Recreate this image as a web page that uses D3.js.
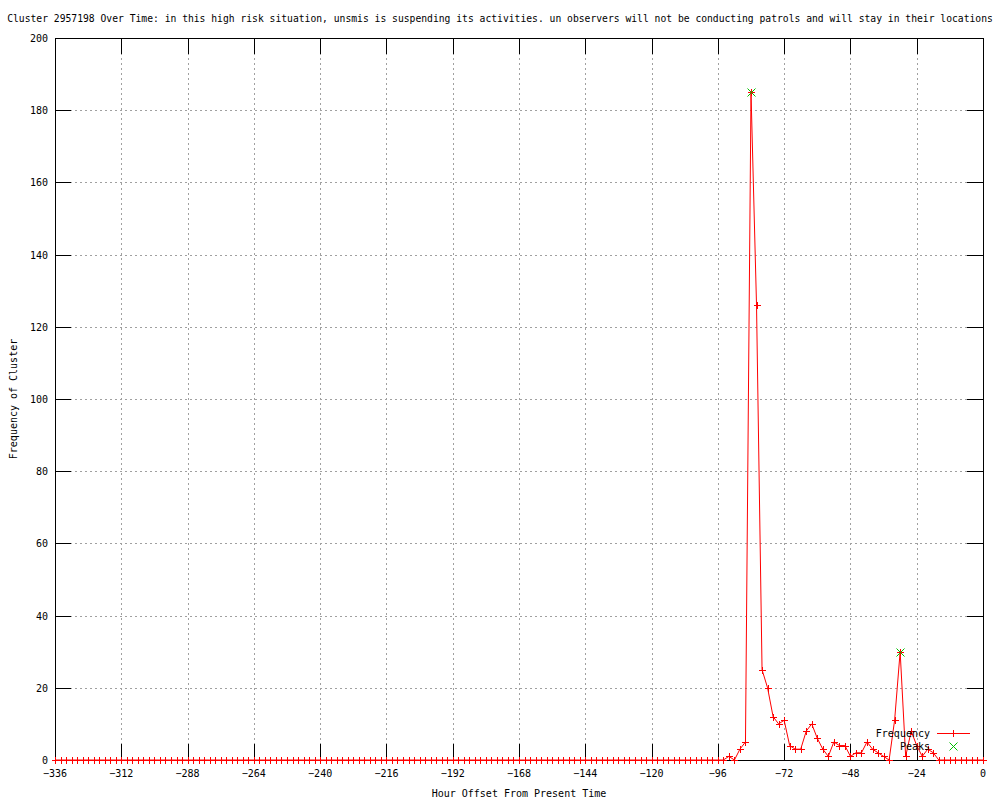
<!DOCTYPE html>
<html>
<head>
<meta charset="utf-8">
<script src="https://cdn.jsdelivr.net/npm/d3@7"></script>
<style>
	body { margin: 0; background: #fff; }
	svg { display: block; }
	text { font-family: "DejaVu Sans Mono", "Liberation Mono", monospace; font-size: 10px; fill: #000; }
</style>
</head>
<body>
<svg width="1000" height="800"></svg>
<script>
const title = "Cluster 2957198 Over Time: in this high risk situation, unsmis is suspending its activities. un observers will not be conducting patrols and will stay in their locations"

// hour offsets, every 2 hours from -336 to 0
const hours = d3.range(-336, 1, 2)

// frequency per 2-hour bin (-336 ... 0)
const frequency = [
	0, 0, 0, 0, 0, 0, 0, 0, 0, 0, 0, 0,
	0, 0, 0, 0, 0, 0, 0, 0, 0, 0, 0, 0,
	0, 0, 0, 0, 0, 0, 0, 0, 0, 0, 0, 0,
	0, 0, 0, 0, 0, 0, 0, 0, 0, 0, 0, 0,
	0, 0, 0, 0, 0, 0, 0, 0, 0, 0, 0, 0,
	0, 0, 0, 0, 0, 0, 0, 0, 0, 0, 0, 0,
	0, 0, 0, 0, 0, 0, 0, 0, 0, 0, 0, 0,
	0, 0, 0, 0, 0, 0, 0, 0, 0, 0, 0, 0,
	0, 0, 0, 0, 0, 0, 0, 0, 0, 0, 0, 0,
	0, 0, 0, 0, 0, 0, 0, 0, 0, 0, 0, 0,
	0, 0,
	1, 0, 3, 5, 185, 126, 25, 20, 12, 10,
	11, 4, 3, 3, 8, 10, 6, 3, 1, 5,
	4, 4, 1, 2, 2, 5, 3, 2, 1, 0,
	11, 30, 1, 8, 4, 1, 3, 2, 0,
	0, 0, 0, 0, 0, 0, 0, 0
]

const peakHours = [-84, -30]
const peakValues = [185, 30]

const xTicks = d3.range(-336, 1, 24)
const yTicks = d3.range(0, 201, 20)

const svg = d3.select("svg")
const mLeft = 55, mRight = 983, mTop = 38, mBottom = 760
const tic = 16

const x = d3.scaleLinear().domain([-336, 0]).range([mLeft, mRight])
const y = d3.scaleLinear().domain([0, 200]).range([mBottom, mTop])

// grid
const grid = svg.append("g")
	.attr("stroke", "#a0a0a0")
	.attr("stroke-dasharray", "2,3")
	.attr("shape-rendering", "crispEdges")

grid.selectAll(".gx")
	.data(xTicks.slice(1, -1))
	.join("line")
	.attr("x1", d => Math.round(x(d)) + 0.5).attr("x2", d => Math.round(x(d)) + 0.5)
	.attr("y1", mTop).attr("y2", mBottom)

grid.selectAll(".gy")
	.data(yTicks.slice(1, -1))
	.join("line")
	.attr("x1", mLeft).attr("x2", mRight)
	.attr("y1", d => Math.round(y(d)) + 0.5).attr("y2", d => Math.round(y(d)) + 0.5)

// tics on all four sides
const tics = svg.append("g")
	.attr("stroke", "#000")
	.attr("shape-rendering", "crispEdges")

xTicks.forEach(d => {
	const px = Math.round(x(d)) + 0.5
	tics.append("line").attr("x1", px).attr("x2", px).attr("y1", mBottom).attr("y2", mBottom - tic)
	tics.append("line").attr("x1", px).attr("x2", px).attr("y1", mTop).attr("y2", mTop + tic)
})
yTicks.forEach(d => {
	const py = Math.round(y(d)) + 0.5
	tics.append("line").attr("x1", mLeft).attr("x2", mLeft + tic).attr("y1", py).attr("y2", py)
	tics.append("line").attr("x1", mRight).attr("x2", mRight - tic).attr("y1", py).attr("y2", py)
})

svg.append("rect")
	.attr("x", mLeft + 0.5).attr("y", mTop + 0.5)
	.attr("width", mRight - mLeft).attr("height", mBottom - mTop)
	.attr("fill", "none").attr("stroke", "#000")
	.attr("shape-rendering", "crispEdges")

// tick labels
svg.append("g").selectAll("text")
	.data(xTicks)
	.join("text")
	.attr("x", d => x(d))
	.attr("y", 777)
	.attr("text-anchor", "middle")
	.text(d => d < 0 ? "\u2212" + Math.abs(d) : d)

svg.append("g").selectAll("text")
	.data(yTicks)
	.join("text")
	.attr("x", 48)
	.attr("y", d => y(d) + 4)
	.attr("text-anchor", "end")
	.text(d => d)

// titles - long title squeezed a touch so it fits the page
svg.append("text")
	.attr("x", 500).attr("y", 22)
	.attr("text-anchor", "middle")
	.style("font-size", "9.7px")
	.text(title)

svg.append("text")
	.attr("x", (mLeft + mRight) / 2).attr("y", 797)
	.attr("text-anchor", "middle")
	.text("Hour Offset From Present Time")

svg.append("text")
	.attr("transform", "translate(17," + ((mTop + mBottom) / 2) + ") rotate(-90)")
	.attr("text-anchor", "middle")
	.text("Frequency of Cluster")

function cross(g, cx, cy, r) {
	g.append("line").attr("x1", cx - r).attr("x2", cx + r).attr("y1", cy - r).attr("y2", cy + r)
	g.append("line").attr("x1", cx - r).attr("x2", cx + r).attr("y1", cy + r).attr("y2", cy - r)
}
function plus(g, cx, cy, r) {
	g.append("line").attr("x1", cx - r).attr("x2", cx + r).attr("y1", cy).attr("y2", cy)
	g.append("line").attr("x1", cx).attr("x2", cx).attr("y1", cy - r).attr("y2", cy + r)
}

// frequency line + points
const data = hours.map((h, i) => [h, frequency[i]])

svg.append("path")
	.datum(data)
	.attr("fill", "none")
	.attr("stroke", "#ff0000")
	.attr("stroke-width", 1)
	.attr("d", d3.line().x(d => x(d[0])).y(d => y(d[1])))

const pts = svg.append("g").style("stroke", "#ff0000").attr("stroke-width", 1)
	.attr("shape-rendering", "crispEdges")
data.forEach(d => plus(pts, Math.round(x(d[0])) + 0.5, Math.round(y(d[1])) + 0.5, 3.5))

// peaks (green x)
const peaks = svg.append("g").style("stroke", "#00c000").attr("stroke-width", 1)
peakHours.forEach((h, i) => cross(peaks, Math.round(x(h)) + 0.5, Math.round(y(peakValues[i])) + 0.5, 4))

// legend
const legend = svg.append("g")
legend.append("text").attr("x", 930).attr("y", 737).attr("text-anchor", "end").text("Frequency")
legend.append("text").attr("x", 930).attr("y", 750).attr("text-anchor", "end").text("Peaks")

const legFreq = legend.append("g").style("stroke", "#ff0000").attr("shape-rendering", "crispEdges")
legFreq.append("line").attr("x1", 937).attr("x2", 970).attr("y1", 733.5).attr("y2", 733.5)
plus(legFreq, 953.5, 733.5, 3.5)

cross(legend.append("g").style("stroke", "#00c000"), 953.5, 746.5, 4)
</script>
</body>
</html>
